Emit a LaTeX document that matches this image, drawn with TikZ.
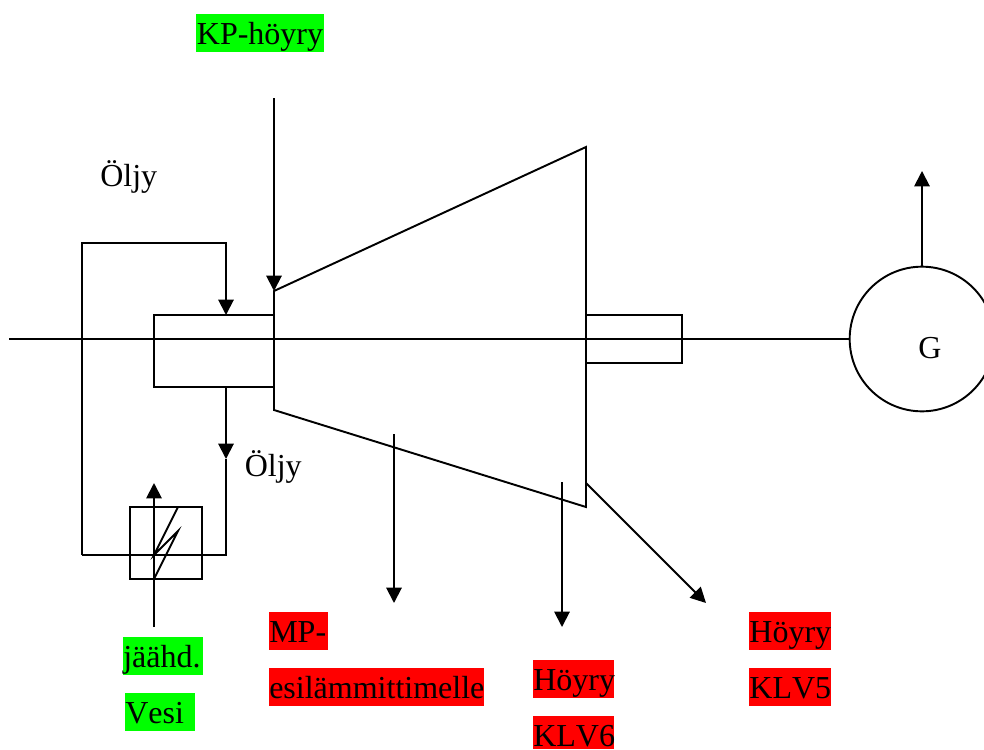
\documentclass[tikz,border=0pt]{standalone}
\usepackage{fontspec}
\setmainfont[Kerning=Off]{Liberation Serif}
\usetikzlibrary{arrows.meta}
\definecolor{lbl}{RGB}{255,0,0}
\definecolor{lbg}{RGB}{0,255,0}
\tikzset{
  x=0.75pt,y=-0.75pt,
  ln/.style={draw=black,line width=1.45pt,line join=miter},
  arr/.style={ln,-{Triangle[length=11.5pt,width=11.5pt]}},
  txt/.style={inner sep=0pt,font=\fontsize{24pt}{24pt}\selectfont,text height=22.85pt,text depth=5.65pt,anchor=north west},
  redt/.style={txt,fill=lbl},
  grnt/.style={txt,fill=lbg},
}
\begin{document}
\begin{tikzpicture}
\useasboundingbox (0,0) rectangle (984,749);
% labels
\node[grnt,text width=127.5pt*0.75,align=center] (kp) at (196,14) {KP-höyry};
\node[txt] (oil1) at (100,156) {Öljy};
\node[txt] (oil2) at (244.5,446) {Öljy};
\node[redt,text width=59pt*0.75] (mp) at (269,612) {MP-};
\node[redt,text width=215pt*0.75] (esi) at (269,668) {esilämmittimelle};
\node[redt,text width=81pt*0.75,align=center] (h6) at (533,660) {Höyry};
\node[redt,text width=81pt*0.75,align=center,text depth=1.9pt] (k6) at (533,716) {KLV6};
\node[redt,text width=82pt*0.75,align=center] (h5) at (749,612) {Höyry};
\node[redt,text width=82pt*0.75,align=center] (k5) at (749,668) {KLV5};
\node[grnt,text width=80pt*0.75] (jh) at (123,637) {jäähd.};
\node[grnt,text width=70pt*0.75] (ve) at (125,693) {Vesi};
% turbine
\coordinate (t1) at (274,291);
\coordinate (t2) at (586,147);
\coordinate (t3) at (586,507);
\coordinate (t4) at (274,410);
\draw[ln] (t1) -- (t2) -- (t3) -- (t4) -- cycle;
% bearings
\node[ln,minimum width=90pt,minimum height=54pt,inner sep=0pt] (brg) at (214,351) {};
\node[ln,minimum width=72pt,minimum height=36pt,inner sep=0pt] (brg2) at (634,339) {};
% generator
\node[ln,circle,minimum size=108.5pt,inner sep=0pt] (gen) at (922,339) {};
\node[inner sep=0pt,font=\fontsize{24pt}{24pt}\selectfont] (g) at (930,348) {G};
% shaft
\coordinate (s0) at (9,339);
\draw[ln] (s0) -- (gen.west);
% steam in
\coordinate (kpin) at (274,98);
\draw[arr] (kpin) -- (t1);
% outlets
\coordinate (o1a) at (394,434); \coordinate (o1b) at (394,603);
\coordinate (o2a) at (562,482); \coordinate (o2b) at (562,627);
\coordinate (o3a) at (586,483); \coordinate (o3b) at (706,603);
\draw[arr] (o1a) -- (o1b);
\draw[arr] (o2a) -- (o2b);
\draw[arr] (o3a) -- (o3b);
% generator output
\coordinate (gout) at (922,171);
\draw[arr] (gen.north) -- (gout);
% oil circuit
\coordinate (b1) at (226,315);
\coordinate (b2) at (226,387);
\coordinate (c1) at (82,243);
\coordinate (c2) at (226,243);
\coordinate (c3) at (82,555);
\coordinate (c4) at (226,555);
\coordinate (oilend) at (226,459);
\draw[arr] (c3) -- (c1) -- (c2) -- (b1);
\draw[arr] (b2) -- (oilend);
\draw[ln] (oilend) -- (c4) -- (c3);
% cooler
\node[ln,minimum width=54pt,minimum height=54pt,inner sep=0pt] (cool) at (166,543) {};
\coordinate (w0) at (154,627);
\coordinate (w1) at (154,483);
\draw[arr] (w0) -- (w1);
\coordinate (z1) at (178,507);
\coordinate (z2) at (154,555);
\coordinate (z3) at (178,531);
\coordinate (z4) at (154,579);
\draw[ln] (z1) -- (z2) -- (z3) -- (z4);
\end{tikzpicture}
\end{document}
